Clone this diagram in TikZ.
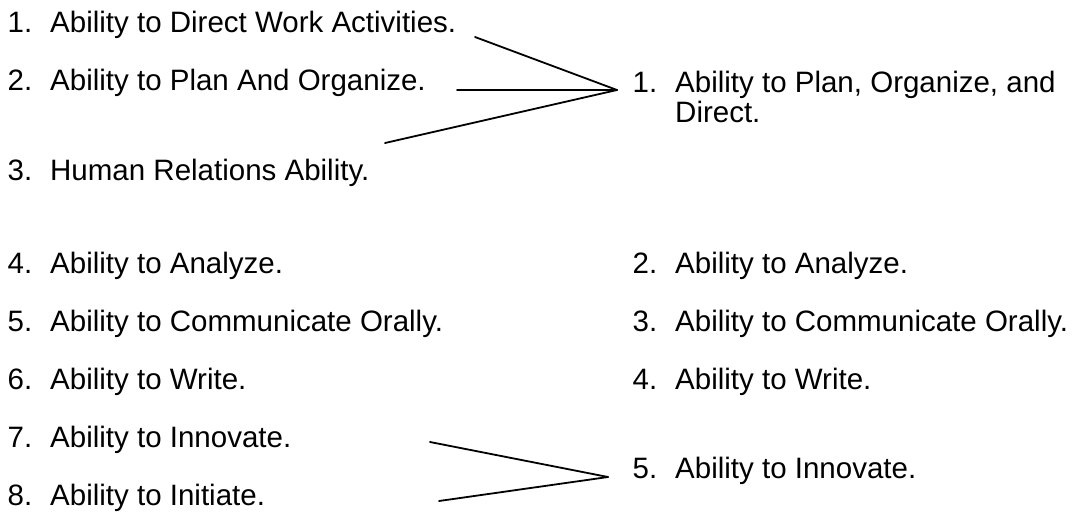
\documentclass[tikz,border=0pt]{standalone}
\usepackage{fontspec}
\setmainfont{Liberation Sans}
\newcommand{\itm}[2]{\makebox[42.5pt][l]{#1}#2}
\begin{document}
\begin{tikzpicture}[x=1pt,y=-1pt,
  txt/.style={anchor=base west,inner sep=0pt,font=\fontsize{29.5}{34}\selectfont},
  conn/.style={line width=1.8pt,line cap=round,line join=round}]
\useasboundingbox (0,0) rectangle (1079,517);
% left column
\node[txt] (l1) at (7.5,32) {\itm{1.}{Ability to Direct Work Activities.}};
\node[txt] (l2) at (7.5,90) {\itm{2.}{Ability to Plan And Organize.}};
\node[txt] (l3) at (7.5,180) {\itm{3.}{Human Relations Ability.}};
\node[txt] (l4) at (7.5,273) {\itm{4.}{Ability to Analyze.}};
\node[txt] (l5) at (7.5,331) {\itm{5.}{Ability to Communicate Orally.}};
\node[txt] (l6) at (7.5,389) {\itm{6.}{Ability to Write.}};
\node[txt] (l7) at (7.5,447) {\itm{7.}{Ability to Innovate.}};
\node[txt] (l8) at (7.5,505) {\itm{8.}{Ability to Initiate.}};
% right column
\node[txt] (r1) at (632.5,92) {\itm{1.}{Ability to Plan, Organize, and}};
\node[txt] (r1b) at (675,122) {Direct.};
\node[txt] (r2) at (632.5,273) {\itm{2.}{Ability to Analyze.}};
\node[txt] (r3) at (632.5,331) {\itm{3.}{Ability to Communicate Orally.}};
\node[txt] (r4) at (632.5,389) {\itm{4.}{Ability to Write.}};
\node[txt] (r5) at (632.5,478) {\itm{5.}{Ability to Innovate.}};
% connector points
\coordinate (a1) at (475,37);
\coordinate (a2) at (457,90);
\coordinate (a3) at (385,143);
\coordinate (va) at (617,90);
\coordinate (b7) at (430,442);
\coordinate (b8) at (439,501);
\coordinate (vb) at (608,477);
\draw[conn] (a1) -- (va);
\draw[conn] (a2) -- (va);
\draw[conn] (a3) -- (va);
\draw[conn] (b7) -- (vb);
\draw[conn] (b8) -- (vb);
\end{tikzpicture}
\end{document}
